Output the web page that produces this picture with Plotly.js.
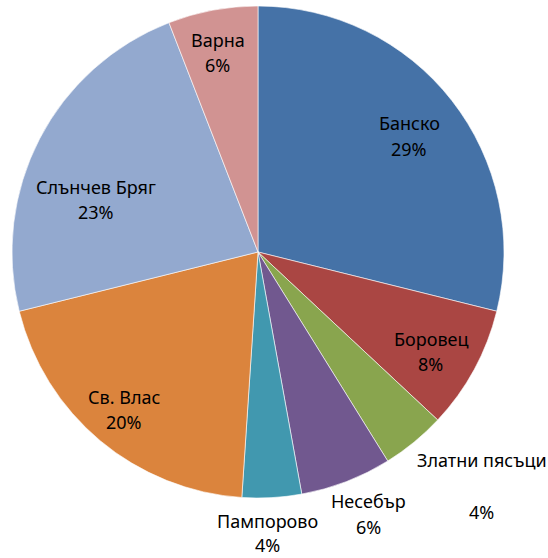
<!DOCTYPE html>
<html>
<head>
<meta charset="utf-8">
<script src="https://cdn.plot.ly/plotly-3.0.1.min.js"></script>
<style>html,body{margin:0;padding:0;background:#fff;}#chart{width:548px;height:558px;}</style>
</head>
<body>
<div id="chart"></div>
<script>
// Data
const labels = ["Банско", "Боровец", "Златни пясъци", "Несебър", "Пампорово", "Св. Влас", "Слънчев Бряг", "Варна"];
const values = [28.9, 8.1, 4.2, 6.0, 3.9, 20.1, 23.0, 5.9];
const colors = ["#4572A7", "#AA4643", "#89A54E", "#71588F", "#4198AF", "#DB843D", "#93A9CF", "#D19392"];

// Label layout (styling only): radius factor, angle offset (deg), gap between name and percent lines (px)
const labelRadius = [0.776, 0.81, 1.315, 1.155, 1.143, 0.839, 0.691, 0.826];
const labelAngleOffset = [0.5, 1.4, -4.4, -1.9, 1.4, 0.4, -9.4, -0.8];
const labelLineGap = [26, 25, 52, 26, 24, 25, 25, 25];

const W = 548, H = 558;
const pieLeft = 12, pieRight = 504, pieTop = 6, pieBottom = 498;
const cx = (pieLeft + pieRight) / 2, cy = (pieTop + pieBottom) / 2, R = (pieRight - pieLeft) / 2;

const total = values.reduce((a, b) => a + b, 0);
const annotations = [];
const font = {family: "Noto Sans, Open Sans, sans-serif", size: 18, color: "#000"};
let cum = 0;
values.forEach((v, i) => {
  const mid = (cum + v / 2) / total * 360 + labelAngleOffset[i];
  cum += v;
  const a = mid * Math.PI / 180;
  const px = cx + labelRadius[i] * R * Math.sin(a);
  const py = cy - labelRadius[i] * R * Math.cos(a);
  const pct = Math.round(v / total * 100) + "%";
  const g = labelLineGap[i] / 2;
  [[labels[i], py - g], [pct, py + g]].forEach(([t, y]) => {
    annotations.push({
      text: t, x: px / W, y: 1 - y / H, xref: "paper", yref: "paper",
      xanchor: "center", yanchor: "middle", showarrow: false, font: font
    });
  });
});

const trace = {
  type: "pie",
  labels: labels,
  values: values,
  sort: false,
  direction: "clockwise",
  rotation: 0,
  marker: {colors: colors, line: {color: "#ffffff", width: 0.6}},
  textinfo: "none",
  textposition: "none",
  hoverinfo: "label+percent",
  domain: {x: [pieLeft / W, pieRight / W], y: [1 - pieBottom / H, 1 - pieTop / H]},
  showlegend: false
};

Plotly.newPlot("chart", [trace], {
  width: W, height: H,
  margin: {l: 0, r: 0, t: 0, b: 0},
  paper_bgcolor: "#fff",
  showlegend: false,
  annotations: annotations,
  font: font
}, {displayModeBar: false});
</script>
</body>
</html>
